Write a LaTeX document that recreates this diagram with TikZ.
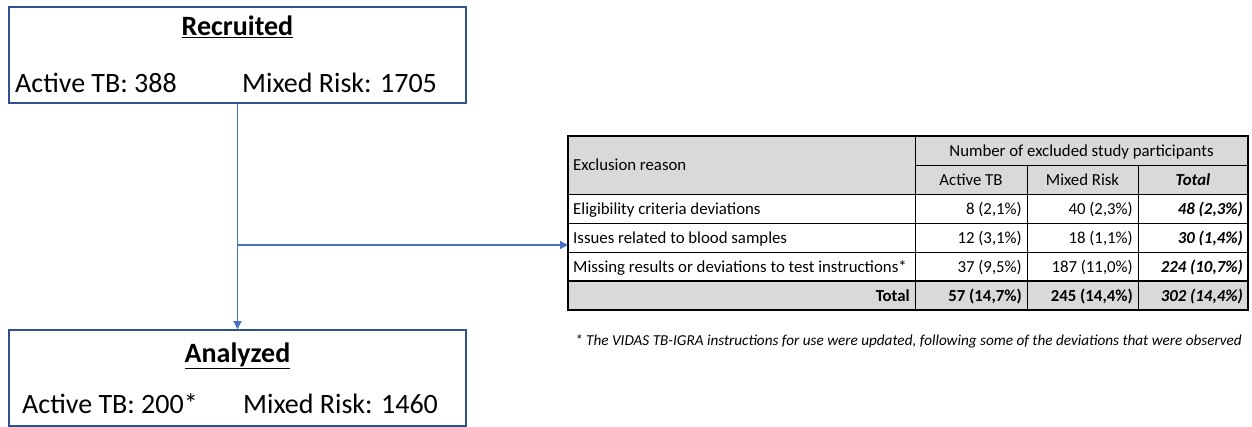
\documentclass[tikz,border=0pt]{standalone}
\usepackage{fontspec}
\setmainfont{Carlito}
\usetikzlibrary{arrows.meta}
\usetikzlibrary{positioning}
\definecolor{boxblue}{HTML}{2F528F}
\definecolor{linkblue}{HTML}{4472C4}
\definecolor{headgray}{HTML}{D9D9D9}
\tikzset{stage/.style = {draw=boxblue, line width=1.5pt, minimum width=457pt,
                         minimum height=96pt, inner sep=0pt}}
\tikzset{big/.style = {inner sep=0pt, font=\fontsize{28}{34}\selectfont}}
\tikzset{cell/.style = {inner sep=0pt, font=\fontsize{16.8}{20}\selectfont}}
\tikzset{note/.style = {inner sep=0pt, font=\fontsize{15.2}{18}\selectfont\itshape}}
\tikzset{link/.style = {draw=linkblue, line width=1.2pt,
                        -{Triangle[length=8pt, width=8pt]}}}
\tikzset{rule/.style = {line width=0.8pt}}

\begin{document}
\begin{tikzpicture}[x=1pt, y=-1pt]
    \useasboundingbox (0, 0) rectangle (1252, 427);

    \node [stage] (recruited) at (237.5, 55) {};
    \node [big, anchor=base] (rectitle) at (237.5, 36) {\textbf{\underline{Recruited}}};
    \node [big, anchor=base west] (recactive) at (15, 93) {Active TB: 388};
    \node [big, anchor=base west] (recmixed) at (242, 93) {Mixed Risk: 1705};

    \node [stage] (analyzed) at (237.5, 378) {};
    \node [big, anchor=base] (anatitle) at (237.5, 362) {\textbf{\underline{Analyzed}}};
    \node [big, anchor=base west] (anaactive) at (22, 413) {Active TB: 200*};
    \node [big, anchor=base west] (anamixed) at (243, 413) {Mixed Risk: 1460};

    \fill [headgray] (568, 136) rectangle (1248, 194);
    \fill [headgray] (568, 281) rectangle (1248, 310);
    \draw [rule] (915, 165) -- (1248, 165);
    \foreach \y in {194, 223, 252} {
      \draw [rule] (568, \y) -- (1248, \y);
    }
    \draw [line width=1.5pt] (568, 281) -- (1248, 281);
    \draw [rule] (915, 136) -- (915, 310);
    \foreach \x in {1027, 1138} {
      \draw [rule] (\x, 165) -- (\x, 310);
    }
    \draw [line width=2pt] (568, 136) rectangle (1248, 310);

    \node [cell, anchor=base west] (reasonhead) at (573, 171) {Exclusion reason};
    \node [cell, anchor=base] (numhead) at (1081.5, 156.5) {Number of excluded study participants};
    \node [cell, anchor=base] (tbhead) at (971, 185.5) {Active TB};
    \node [cell, anchor=base] (mrhead) at (1082.5, 185.5) {Mixed Risk};
    \node [cell, anchor=base] (tothead) at (1193, 185.5) {\textbf{\textit{Total}}};

    \foreach \y/\reason/\tb/\mr/\tot [count=\i] in {
        214.5/Eligibility criteria deviations/8 (2{,}1\%)/40 (2{,}3\%)/48 (2{,}3\%),
        243.5/Issues related to blood samples/12 (3{,}1\%)/18 (1{,}1\%)/30 (1{,}4\%),
        272.5/Missing results or deviations to test instructions*/37 (9{,}5\%)/187 (11{,}0\%)/224 (10{,}7\%)} {
      \node [cell, anchor=base west] (reason\i) at (573, \y) {\reason};
      \node [cell, anchor=base east] (tb\i) at (1022, \y) {\tb};
      \node [cell, anchor=base east] (mr\i) at (1133, \y) {\mr};
      \node [cell, anchor=base east] (tot\i) at (1243, \y) {\textbf{\textit{\tot}}};
    }

    \node [cell, anchor=base east] (totlabel) at (910, 301.5) {\textbf{Total}};
    \node [cell, anchor=base east] (tbsum) at (1022, 301.5) {\textbf{57 (14,7\%)}};
    \node [cell, anchor=base east] (mrsum) at (1133, 301.5) {\textbf{245 (14,4\%)}};
    \node [cell, anchor=base east] (totsum) at (1243, 301.5) {\textbf{\textit{302 (14,4\%)}}};

    \node [note, anchor=base west] (footnote) at (575, 345)
      {* The VIDAS TB-IGRA instructions for use were updated, following some of the deviations that were observed};

    \coordinate (tabin) at (568, 245);
    \coordinate (split) at (recruited.south |- tabin);
    \draw [link] (recruited) -- (analyzed);
    \draw [link] (split) -- (tabin);
  \end{tikzpicture}
\end{document}
